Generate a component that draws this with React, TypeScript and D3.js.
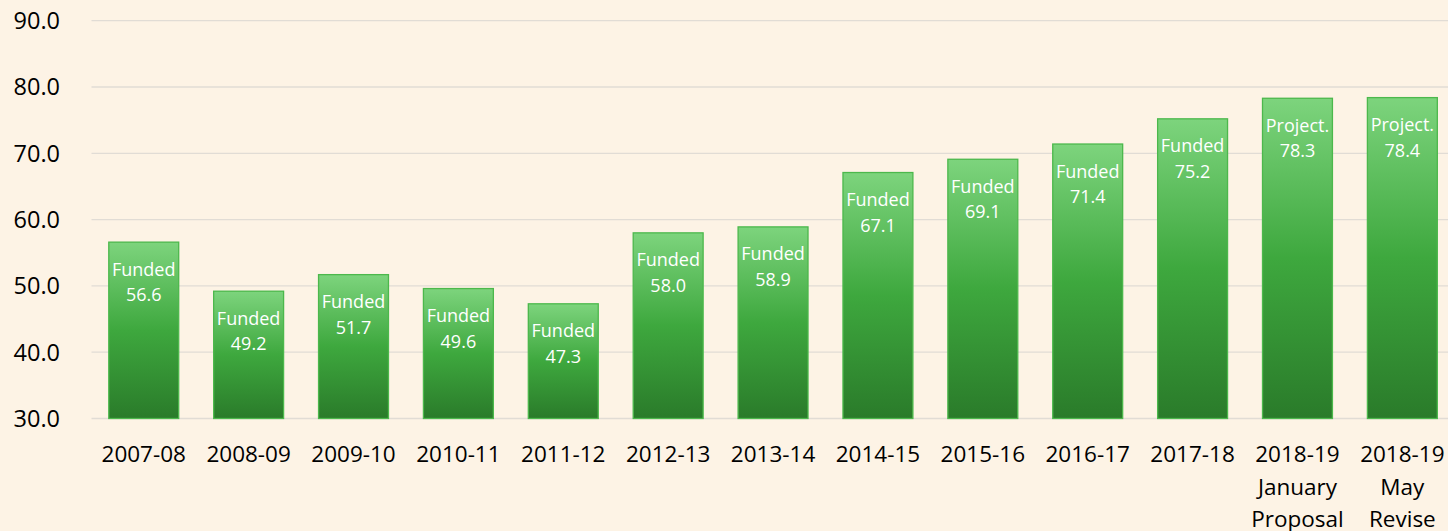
import React from "react";
import * as d3 from "d3";

const categories: string[][] = [
  ["2007-08"], ["2008-09"], ["2009-10"], ["2010-11"], ["2011-12"], ["2012-13"],
  ["2013-14"], ["2014-15"], ["2015-16"], ["2016-17"], ["2017-18"],
  ["2018-19", "January", "Proposal"], ["2018-19", "May", "Revise"],
];
const values: number[] = [56.6, 49.2, 51.7, 49.6, 47.3, 58.0, 58.9, 67.1, 69.1, 71.4, 75.2, 78.3, 78.4];
const statuses: string[] = [
  "Funded", "Funded", "Funded", "Funded", "Funded", "Funded", "Funded", "Funded",
  "Funded", "Funded", "Funded", "Project.", "Project.",
];
const yTicks: number[] = [30, 40, 50, 60, 70, 80, 90];

const W = 1448;
const H = 531;
const FONT = "'Open Sans', sans-serif";

export default function App() {
  const keys = categories.map((c) => c.join(" "));
  const x = d3.scaleBand<string>().domain(keys).range([91.3, 1454.8]).paddingInner(1 / 3).paddingOuter(1 / 6);
  const y = d3.scaleLinear().domain([30, 90]).range([418.5, 20.7]);

  return (
    <div style={{ position: "fixed", left: 0, top: 0 }}>
      <svg width={W} height={H} style={{ display: "block" }}>
        <defs>
          <linearGradient id="barGrad" x1="0" y1="0" x2="0" y2="1">
            <stop offset="0%" stopColor="#7dd47d" />
            <stop offset="50%" stopColor="#3ea83e" />
            <stop offset="100%" stopColor="#2a7b2a" />
          </linearGradient>
        </defs>
        <rect x={0} y={0} width={W} height={H} fill="#fdf3e5" />
        {yTicks.map((t) => (
          <g key={t}>
            <line x1={91.5} x2={W} y1={y(t)} y2={y(t)} stroke="#e1dcd5" strokeWidth={1.3} />
            <text x={60} y={y(t)} dy="0.36em" textAnchor="end" fontFamily={FONT} fontSize={23.5} fill="#000">
              {t.toFixed(1)}
            </text>
          </g>
        ))}
        {values.map((v, i) => {
          const k = keys[i];
          const bx = x(k)!;
          const bw = x.bandwidth();
          const top = y(v);
          const cx = bx + bw / 2;
          return (
            <g key={k}>
              <rect x={bx} y={top} width={bw} height={y(30) - top} fill="url(#barGrad)" stroke="#4cb84c" strokeWidth={1.3} />
              <text x={cx} y={top + 33.5} textAnchor="middle" fontFamily={FONT} fontSize={18} fill="#ffffff">
                {statuses[i]}
              </text>
              <text x={cx} y={top + 59} textAnchor="middle" fontFamily={FONT} fontSize={18} fill="#ffffff">
                {v.toFixed(1)}
              </text>
            </g>
          );
        })}
        {categories.map((lines, i) => {
          const cx = x(keys[i])! + x.bandwidth() / 2;
          return (
            <text key={keys[i]} x={cx} y={462} textAnchor="middle" fontFamily={FONT} fontSize={22.5} fill="#000">
              {lines.map((l, j) => (
                <tspan key={j} x={cx} dy={j === 0 ? 0 : 32.5}>
                  {l}
                </tspan>
              ))}
            </text>
          );
        })}
      </svg>
    </div>
  );
}
